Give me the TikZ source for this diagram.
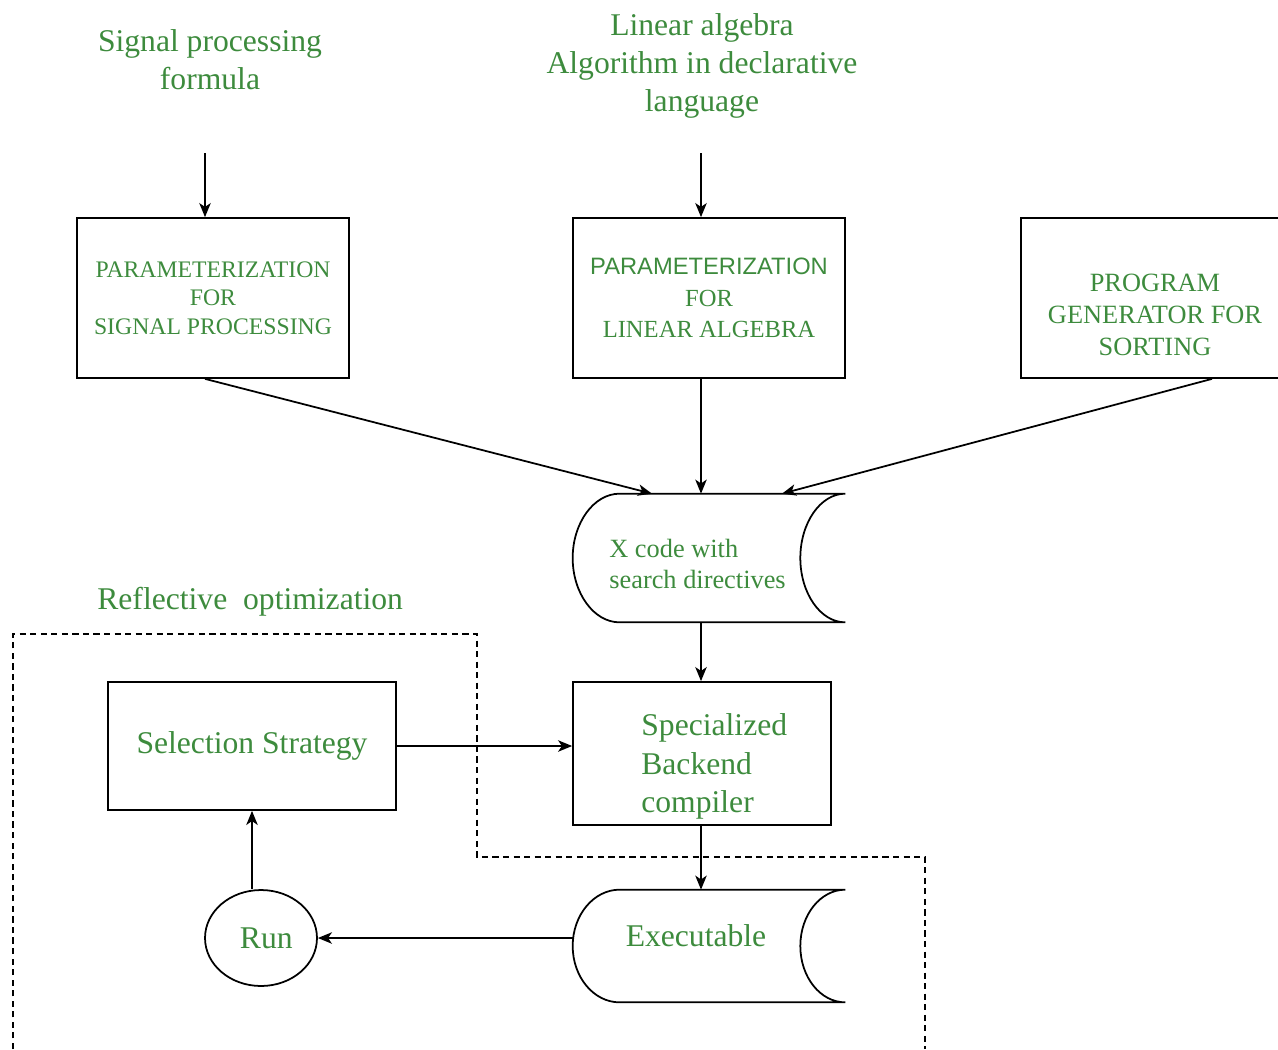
\documentclass[tikz,border=0pt]{standalone}
\usepackage{fontspec}
\setmainfont{Liberation Serif}
\setsansfont{Liberation Sans}
\usetikzlibrary{arrows.meta, positioning, shapes.geometric, calc}
\definecolor{txtgreen}{RGB}{61,139,61}
\tikzset{
  box/.style    = {draw, line width=1pt, minimum width=5.44cm, minimum height=3.2cm,
                   align=center, text=txtgreen, inner sep=2pt},
  store/.style  = {minimum width=5.44cm, inner sep=0pt},
  txt/.style    = {text=txtgreen, align=left, inner sep=0pt},
  lbl/.style    = {text=txtgreen, align=center, font=\fontsize{18}{21.5}\selectfont},
  arrow/.style  = {-{Stealth[length=8pt, width=6.5pt, inset=2.2pt]}, line width=1pt},
  region/.style = {dash pattern=on 3.5pt off 2.5pt, line width=0.8pt},
}

\begin{document}
\begin{tikzpicture}[x=0.02cm, y=-0.02cm]
  \useasboundingbox (0,0) rectangle (1278,1049);
  % inputs
  \node[lbl] (sigtxt) at (210,60) {Signal processing\\formula};
  \node[lbl] (latxt) at (702,66) {Linear algebra\\Algorithm in declarative\\language};
  \coordinate (sigin) at (205,153);
  \coordinate (lain) at (701,153);
  % generators
  \node[box, font=\fontsize{13.5}{16.2}\selectfont] (sp) at (213,298)
    {PARAMETERIZATION\\FOR\\SIGNAL PROCESSING};
  \node[box, font=\fontsize{14}{17.9}\selectfont] (la) at (709,298)
    {{\sffamily\fontsize{13.5}{17.9}\selectfont PARAMETERIZATION}\\FOR\\LINEAR ALGEBRA};
  \node[box] (sort) at (1157,298) {};
  \node[txt, align=center, font=\fontsize{15}{18.1}\selectfont] at ($(sort.center)+(-2,17)$)
    {PROGRAM\\GENERATOR FOR\\SORTING};
  % code with directives, executable
  \node[store, minimum height=2.56cm] (xcode) at (709,558) {};
  \node[txt, anchor=west, font=\fontsize{15}{18.1}\selectfont] at ($(xcode.center)+(-100,6)$)
    {X code with\\search directives};
  \node[store, minimum height=2.24cm] (exe) at (709,946) {};
  \node[txt, font=\fontsize{18}{21.5}\selectfont] at ($(exe.center)+(-13,-10)$) {Executable};
  \foreach \n/\r in {xcode/35, exe/31} {
    \draw[line width=1pt] ($(\n.north west)+(47,0)$) -- (\n.north east)
      .. controls +(-25,0) and +(0,-\r) .. ($(\n.east)+(-45,0)$)
      .. controls +(0,\r) and +(-25,0) .. (\n.south east)
      -- ($(\n.south west)+(47,0)$)
      .. controls +(-26,0) and +(0,\r) .. (\n.west)
      .. controls +(0,-\r) and +(-26,0) .. ($(\n.north west)+(47,0)$) -- cycle;
  }
  % backend and tuning loop
  \node[box, minimum width=5.16cm, minimum height=2.86cm] (spec) at (702,753.5) {};
  \node[txt, anchor=west, font=\fontsize{18}{21.8}\selectfont] at ($(spec.center)+(-61,13)$)
    {Specialized\\Backend\\compiler};
  \node[box, minimum width=5.76cm, minimum height=2.56cm, font=\fontsize{18}{21.5}\selectfont]
    (sel) at (252,746) {Selection Strategy};
  \node[ellipse, draw, line width=1pt, minimum width=2.24cm, minimum height=1.92cm,
    inner sep=0pt, text=txtgreen, font=\fontsize{18}{21.5}\selectfont] (run) at (261,938) {\,\,Run};
  % reflective region
  \draw[region] (13,1049) -- (13,634) -- (477,634) -- (477,857) -- (925,857) -- (925,1049);
  \node[lbl, anchor=west, inner sep=0pt] (refl) at (97,602) {Reflective~ optimization};
  % connectors
  \draw[arrow] (sigin) -- (sp.north -| sigin);
  \draw[arrow] (lain) -- (la.north -| lain);
  \draw[arrow] (sp.south -| sigin) -- ($(xcode.north)+(-57,0)$);
  \draw[arrow] (la.south -| lain) -- (xcode.north -| lain);
  \draw[arrow] ($(sort.south)+(55,0)$) -- ($(xcode.north)+(73,0)$);
  \draw[arrow] (xcode.south -| lain) -- (spec.north -| lain);
  \draw[arrow] (sel.east) -- (spec.west |- sel.east);
  \draw[arrow] (spec.south -| lain) -- (exe.north -| lain);
  \draw[arrow] (exe.west |- run.east) -- (run.east);
  \draw[arrow] (run.north -| sel.south) -- (sel.south);
\end{tikzpicture}
\end{document}
